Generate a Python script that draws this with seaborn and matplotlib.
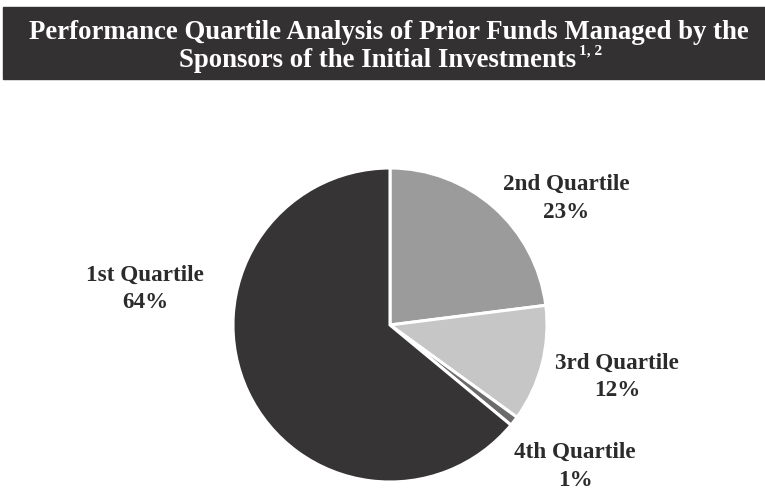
"""Pie chart of performance quartiles of prior sponsor funds."""

import matplotlib

matplotlib.use("Agg")
import matplotlib.pyplot as plt
from matplotlib.patches import Rectangle
import seaborn as sns

quartiles = ["2nd Quartile", "3rd Quartile", "4th Quartile", "1st Quartile"]
shares = [23, 12, 1, 64]
slice_colors = ["#9b9b9b", "#c6c6c6", "#6b6b6b", "#363435"]

sns.set_style("white")
plt.rcParams["font.family"] = ["Liberation Serif", "DejaVu Serif"]

W, H = 765, 491
fig = plt.figure(figsize=(W / 100, H / 100), dpi=100)
ax = fig.add_axes([0, 0, 1, 1])

# title banner
ax.add_patch(Rectangle((3, H - 79), W - 3, 72, color="#333132", zorder=1))
ax.text(389, H - 32, "Performance Quartile Analysis of Prior Funds Managed by the",
        color="white", fontsize=19.3, fontweight="bold", ha="center", va="center")
line2 = ax.text(378, H - 60, "Sponsors of the Initial Investments",
                color="white", fontsize=19.3, fontweight="bold", ha="center", va="center")

ax.pie(
    shares,
    colors=slice_colors,
    startangle=90,
    counterclock=False,
    center=(390, H - 325),
    radius=157,
    wedgeprops={"edgecolor": "white", "linewidth": 2.2},
    frame=True,
)
ax.set_xlim(0, W)
ax.set_ylim(0, H)
ax.axis("off")

fig.canvas.draw()
bb = line2.get_window_extent()
ax.text(bb.x1 + 2, H - 51, "1, 2", color="white", fontsize=11,
        fontweight="bold", ha="left", va="center")

label_pos = [(566, 184), (617, 363), (575, 452), (145, 275)]
for name, share, (x, y) in zip(quartiles, shares, label_pos):
    ax.text(x, H - y, name, fontsize=16.7, fontweight="bold", color="#2b2b2b",
            ha="center", va="center")
    ax.text(x, H - y - 28, f"{share}%", fontsize=16.7, fontweight="bold",
            color="#2b2b2b", ha="center", va="center")

fig.savefig("out.png", dpi=100)
plt.close(fig)
